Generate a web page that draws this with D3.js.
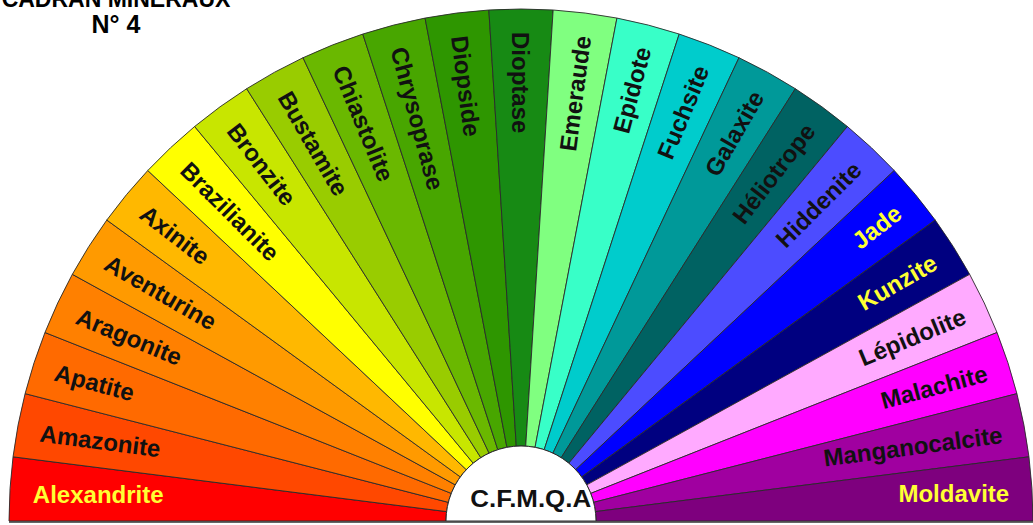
<!DOCTYPE html>
<html>
<head>
<meta charset="utf-8">
<script src="https://cdn.jsdelivr.net/npm/d3@7"></script>
<style>
  body { margin: 0; background: #fff; }
  svg { display: block; }
  text { font-family: "Liberation Sans", Arial, sans-serif; font-weight: bold; }
</style>
</head>
<body>
<svg id="svg"></svg>
<script>
const width = 1033;
const height = 525;

// dial content, left to right
const minerals = [
  "Alexandrite", "Amazonite", "Apatite", "Aragonite", "Aventurine", "Axinite",
  "Brazilianite", "Bronzite", "Bustamite", "Chiastolite", "Chrysoprase", "Diopside",
  "Dioptase", "Emeraude", "Epidote", "Fuchsite", "Galaxite", "Héliotrope",
  "Hiddenite", "Jade", "Kunzite", "Lépidolite", "Malachite", "Manganocalcite", "Moldavite"
];
const shares = [1, 1, 1, 1, 1, 1, 1, 1, 1, 1, 1, 1, 1, 1, 1, 1, 1, 1, 1, 1, 1, 1, 1, 1, 1];
const fills = [
  "#ff0000", "#ff4800", "#ff6a00", "#ff8000", "#ff9a00", "#ffb800",
  "#ffff00", "#c8e600", "#99cc00", "#6ab800", "#48a600", "#2e9600",
  "#178a14", "#80ff80", "#38ffc8", "#00cccc", "#009999", "#006262",
  "#4c4cff", "#0000ff", "#000080", "#ffaaff", "#ff00ff", "#a000a0", "#7e007e"
];
const labelColors = [
  "#ffff33", "#111", "#111", "#111", "#111", "#111",
  "#111", "#111", "#111", "#111", "#111", "#111",
  "#111", "#111", "#111", "#111", "#111", "#111",
  "#111", "#ffff33", "#ffff33", "#111", "#111", "#111", "#ffff33"
];
const titleLines = ["CADRAN MINÉRAUX", "N° 4"];
const centerLabel = "C.F.M.Q.A";

const cx = 521, cy = 521;
const rOuter = 512, rInner = 75;

const svg = d3.select("#svg").attr("width", width).attr("height", height);

const pie = d3.pie().sort(null).value((d) => d)
  .startAngle(-Math.PI / 2).endAngle(Math.PI / 2);
const arcs = pie(shares);
const arc = d3.arc().innerRadius(rInner).outerRadius(rOuter);

const dial = svg.append("g").attr("transform", `translate(${cx},${cy})`);

dial.selectAll("path.seg")
  .data(arcs)
  .enter()
  .append("path")
  .attr("class", "seg")
  .attr("d", arc)
  .attr("fill", (d, i) => fills[i])
  .attr("stroke", "#2a2a2a")
  .attr("stroke-width", 0.9);

// inner hub
dial.append("path")
  .attr("d", d3.arc().innerRadius(0).outerRadius(rInner)
    .startAngle(-Math.PI / 2).endAngle(Math.PI / 2)())
  .attr("fill", "#fff")
  .attr("stroke", "#2a2a2a")
  .attr("stroke-width", 1);

// text tilt goes 0 -> 90 over each half
const half = Math.floor(minerals.length / 2);
const tilt = d3.scaleLinear().domain([0, half]).range([0, 90]);

const labels = dial.selectAll("text.lab")
  .data(arcs)
  .enter()
  .append("text")
  .attr("class", "lab")
  .attr("text-anchor", "middle")
  .attr("dy", "0.36em")
  .attr("font-size", 24)
  .attr("fill", (d, i) => labelColors[i])
  .text((d, i) => minerals[i]);

labels.each(function (d, i) {
  const len = this.getComputedTextLength();
  const mid = (d.startAngle + d.endAngle) / 2;
  const r = rOuter - 23 - len / 2;
  const x = r * Math.sin(mid);
  const y = -r * Math.cos(mid);
  const rot = i <= half ? tilt(i) : -tilt(minerals.length - 1 - i);
  d3.select(this).attr("transform", `translate(${x},${y}) rotate(${rot})`);
});

dial.append("text")
  .attr("x", 9)
  .attr("y", -14)
  .attr("text-anchor", "middle")
  .attr("font-size", 24)
  .attr("fill", "#111")
  .attr("transform", "scale(1.08,1)")
  .text(centerLabel);

// bottom rule
dial.append("line")
  .attr("x1", -rOuter).attr("x2", rOuter)
  .attr("y1", 1).attr("y2", 1)
  .attr("stroke", "#333").attr("stroke-width", 1.5);

svg.selectAll("text.title")
  .data(titleLines)
  .enter()
  .append("text")
  .attr("class", "title")
  .attr("x", 116)
  .attr("y", (d, i) => 7 + i * 26)
  .attr("text-anchor", "middle")
  .attr("font-size", (d, i) => (i === 0 ? 23 : 25))
  .attr("fill", "#000")
  .text((d) => d);
</script>
</body>
</html>
